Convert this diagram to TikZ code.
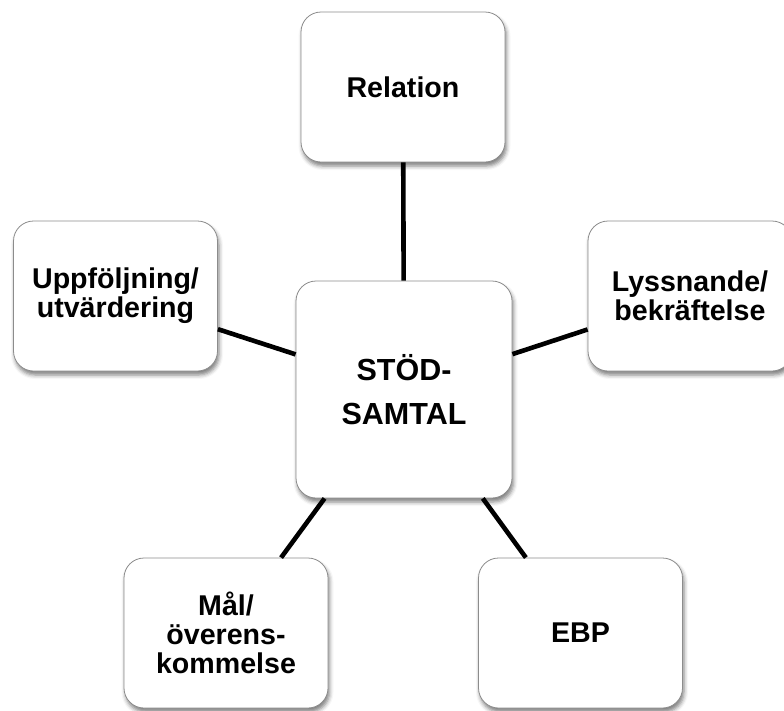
\documentclass[tikz,border=0pt]{standalone}
\usepackage{fontspec}
\setmainfont{Liberation Sans}
\usetikzlibrary{shadows.blur}
\begin{document}
\begin{tikzpicture}[x=1pt,y=-1pt]
\tikzset{
  box/.style={draw=black!45, line width=0.8pt, rounded corners=20pt, fill=white,
    minimum width=204pt, minimum height=150pt, inner sep=0pt, align=center,
    font=\fontsize{28.6}{28.8}\selectfont\bfseries,
    blur shadow={shadow xshift=1.5pt, shadow yshift=-4pt, shadow blur radius=4pt, shadow opacity=50}},
  hub/.style={box, minimum width=216pt, minimum height=217pt,
    font=\fontsize{30.5}{44.7}\selectfont\bfseries},
  link/.style={line width=4.6pt}
}
\useasboundingbox (0,0) rectangle (784,710);
\clip (0,0) rectangle (784,710);
\node[hub] (c) at (404,389.5) {STÖD-\\SAMTAL};
\node[box] (rel) at (403,87) {Relation};
\node[box] (upp) at (115.5,296) {Uppföljning/\\utvärdering};
\node[box] (lys) at (690,296) {Lyssnande/\\bekräftelse};
\node[box] (mal) at (226,633) {Mål/\\överens-\\kommelse};
\node[box] (ebp) at (580.5,633) {EBP};
\draw[link] (c) -- (rel);
\draw[link] (c) -- (upp);
\draw[link] (c) -- (lys);
\draw[link] (c) -- (mal);
\draw[link] (c) -- (ebp);
\end{tikzpicture}
\end{document}
